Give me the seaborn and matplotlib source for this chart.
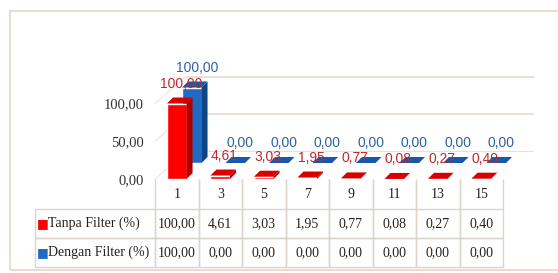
import matplotlib
matplotlib.use('Agg')
import matplotlib.pyplot as plt
import seaborn as sns
import pandas as pd
from matplotlib.patches import Polygon, Rectangle
from matplotlib.lines import Line2D
from matplotlib.table import Table

# data
categories = ['1', '3', '5', '7', '9', '11', '13', '15']
tanpa_filter = [100.00, 4.61, 3.03, 1.95, 0.77, 0.08, 0.27, 0.40]
dengan_filter = [100.00, 0.00, 0.00, 0.00, 0.00, 0.00, 0.00, 0.00]
series_names = ['Tanpa Filter (%)', 'Dengan Filter (%)']
y_ticks = [0, 50, 100]


def fmt(v):
    return f'{v:.2f}'.replace('.', ',')


sns.set_theme(style='white')
plt.rcParams['font.family'] = ['Liberation Serif', 'DejaVu Serif']

W, H = 558, 273
fig = plt.figure(figsize=(W / 100, H / 100), dpi=100)
fig.patch.set_facecolor('white')


def px_axes(x0, floor, x1, top):
    return fig.add_axes([x0 / W, (H - floor) / H, (x1 - x0) / W, (floor - top) / H])


# three planes: back wall, blue series (middle depth), red series (front)
ax_back = px_axes(186, 152, 534, 1)
ax_mid = px_axes(170, 163, 518, 12)
ax = px_axes(155, 179, 503, 28)

for a in (ax_back, ax_mid, ax):
    a.set_xlim(-0.5, 7.5)
    a.set_ylim(0, 200)
    a.patch.set_visible(False)
    for s in a.spines.values():
        s.set_visible(False)

wall_color = '#E3DBD3'
for t in y_ticks:
    ax_back.axhline(t, color=wall_color, lw=1.2)
ax_back.set_xticks([])
ax_back.set_yticks([])

df_red = pd.DataFrame({'k': categories, 'v': tanpa_filter})
df_blue = pd.DataFrame({'k': categories, 'v': dengan_filter})

sns.barplot(data=df_blue, x='k', y='v', order=categories, color='#1F6BC4',
            saturation=1, width=0.45, ax=ax_mid)
sns.barplot(data=df_red, x='k', y='v', order=categories, color='#FF0000',
            saturation=1, width=0.45, ax=ax)

for a in (ax_back, ax_mid, ax):
    a.set_xlim(-0.5, 7.5)
    a.set_ylim(0, 200)
    a.set_xlabel('')
    a.set_ylabel('')
ax_mid.set_xticks([])
ax_mid.set_yticks([])

inv = fig.transFigure.inverted()

# left wall diagonals
for t in y_ticks:
    p0 = ax.transData.transform((-0.5, t))
    p1 = ax_back.transData.transform((-0.5, t))
    ax_back.add_line(Line2D(*zip(*inv.transform([p0, p1])), color='#EFE9E3', lw=1,
                            transform=fig.transFigure, clip_on=False))


def add_depth(a, color_top, color_side, dx=6, dy=6):
    for p in list(a.patches):
        x, y = p.get_x(), p.get_y()
        w, h = p.get_width(), p.get_height()
        (l, b), (r, t) = a.transData.transform([(x, y), (x + w, y + h)])
        top = [(l, t), (r, t), (r + dx, t + dy), (l + dx, t + dy)]
        side = [(r, b), (r + dx, b + dy), (r + dx, t + dy), (r, t)]
        for pts, c in ((side, color_side), (top, color_top)):
            a.add_patch(Polygon(inv.transform(pts), closed=True, facecolor=c,
                                edgecolor='none', transform=fig.transFigure,
                                clip_on=False))


add_depth(ax_mid, '#1858A8', '#0E4683')
add_depth(ax, '#D80000', '#B00000')

label_font = dict(family=['Liberation Sans', 'DejaVu Sans'], fontsize=10)
for i, v in enumerate(tanpa_filter):
    ax.annotate(fmt(v), xy=(i, v), xytext=(4 * 0.72, 20 * 0.72),
                textcoords='offset points', ha='center', va='center',
                color='#C0282D', zorder=10, **label_font)
for i, v in enumerate(dengan_filter):
    ax_mid.annotate(fmt(v), xy=(i, v), xytext=(5 * 0.72, 20 * 0.72),
                    textcoords='offset points', ha='center', va='center',
                    color='#2E62A0', zorder=10, **label_font)

ax.set_xticks([])
ax.set_yticks(y_ticks)
ax.set_yticklabels([fmt(t) for t in y_ticks])
ax.tick_params(axis='y', length=0, pad=8, labelsize=10.5, labelcolor='#333333')

# data table under the plot
edge = '#DDD5CC'
tbl = Table(ax, bbox=[(35 - 155) / 348, (179 - 267) / 151, 468 / 348, 88 / 151])
corner = tbl.add_cell(0, 0, width=120, height=30, text='', facecolor='none', edgecolor=edge)
corner.visible_edges = ''
for j, c in enumerate(categories):
    cell = tbl.add_cell(0, j + 1, width=43.5, height=30, text=c, loc='center',
                        facecolor='none', edgecolor=edge)
    cell.visible_edges = 'LR'
for i, (name, vals) in enumerate(zip(series_names, [tanpa_filter, dengan_filter])):
    cell = tbl.add_cell(i + 1, 0, width=120, height=29, text=name, loc='left',
                        facecolor='none', edgecolor=edge)
    cell.PAD = 0.11
    for j, v in enumerate(vals):
        tbl.add_cell(i + 1, j + 1, width=43.5, height=29, text=fmt(v), loc='center',
                     facecolor='none', edgecolor=edge)
tbl.auto_set_font_size(False)
tbl.set_fontsize(10)
for cell in tbl.get_celld().values():
    cell.set_linewidth(1)
    cell.get_text().set_color('#222222')
ax.add_table(tbl)

# legend keys in the table
for yy, col in zip([(179 - 223.5) / 151, (179 - 252.5) / 151], ['#FF0000', '#1F6BC4']):
    ax.text((37 - 155) / 348, yy, '■', color=col, transform=ax.transAxes,
            ha='left', va='center', fontsize=9, family='DejaVu Sans')

# outer chart frame
fig.add_artist(Rectangle((10 / W, 3 / H), 560 / W, 259 / H, transform=fig.transFigure,
                         fill=False, edgecolor='#E6DDD4', lw=1.5))

fig.savefig('out.png', dpi=100)
